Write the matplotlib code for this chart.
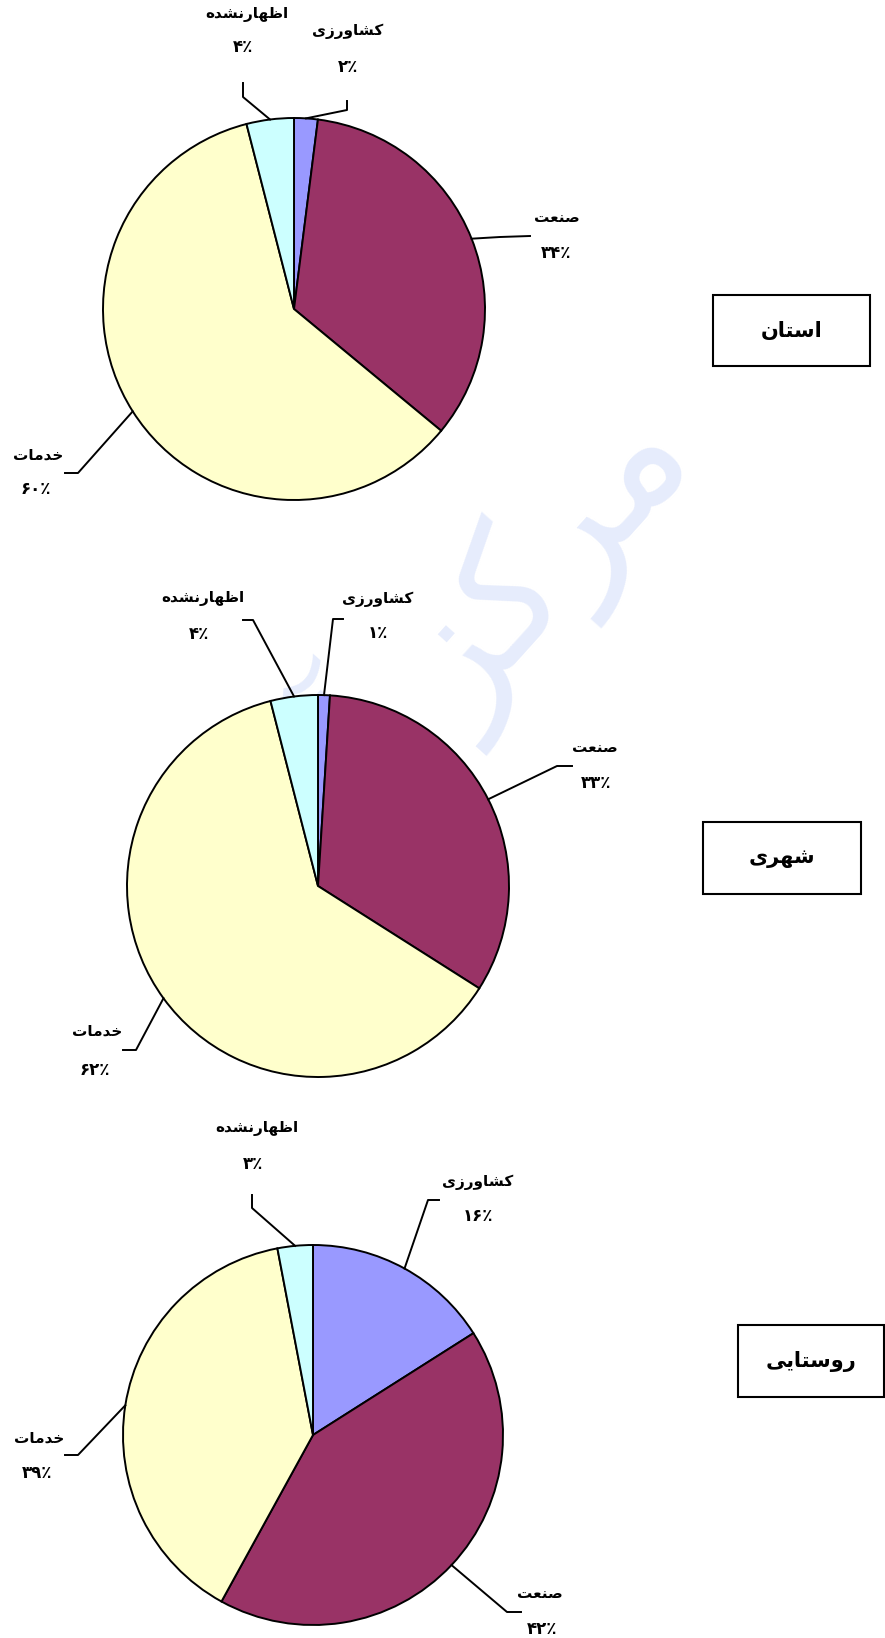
import numpy as np
import matplotlib
matplotlib.use("Agg")
import matplotlib.pyplot as plt
from matplotlib.patches import Rectangle

plt.rcParams['font.family'] = ['DejaVu Sans']

# data
sectors = ['کشاورزی', 'صنعت', 'خدمات', 'اظهارنشده']
colors = ['#9999FF', '#993366', '#FFFFCC', '#CCFFFF']
titles = ['استان', 'شهری', 'روستایی']
ostan = [2, 34, 60, 4]
shahri = [1, 33, 62, 4]
roustaei = [16, 42, 39, 3]
pct_labels = [['۲٪', '۳۴٪', '۶۰٪', '۴٪'],
              ['۱٪', '۳۳٪', '۶۲٪', '۴٪'],
              ['۱۶٪', '۴۲٪', '۳۹٪', '۳٪']]

W, H = 885, 1638

# arabic presentation forms: isolated, final, initial, medial
FORMS = {
    'ا': ('\uFE8D', '\uFE8E'),
    'آ': ('\uFE81', '\uFE82'),
    'ت': ('\uFE95', '\uFE96', '\uFE97', '\uFE98'),
    'خ': ('\uFEA5', '\uFEA6', '\uFEA7', '\uFEA8'),
    'د': ('\uFEA9', '\uFEAA'),
    'ر': ('\uFEAD', '\uFEAE'),
    'ز': ('\uFEAF', '\uFEB0'),
    'س': ('\uFEB1', '\uFEB2', '\uFEB3', '\uFEB4'),
    'ش': ('\uFEB5', '\uFEB6', '\uFEB7', '\uFEB8'),
    'ص': ('\uFEB9', '\uFEBA', '\uFEBB', '\uFEBC'),
    'ظ': ('\uFEC5', '\uFEC6', '\uFEC7', '\uFEC8'),
    'ع': ('\uFEC9', '\uFECA', '\uFECB', '\uFECC'),
    'ک': ('\uFB8E', '\uFB8F', '\uFB90', '\uFB91'),
    'م': ('\uFEE1', '\uFEE2', '\uFEE3', '\uFEE4'),
    'ن': ('\uFEE5', '\uFEE6', '\uFEE7', '\uFEE8'),
    'و': ('\uFEED', '\uFEEE'),
    'ه': ('\uFEE9', '\uFEEA', '\uFEEB', '\uFEEC'),
    'ی': ('\uFBFC', '\uFBFD', '\uFBFE', '\uFBFF'),
}


def shape(word):
    out = []
    n = len(word)
    for i, ch in enumerate(word):
        f = FORMS.get(ch)
        if f is None:
            out.append(ch)
            continue
        prev = word[i-1] if i > 0 else None
        nxt = word[i+1] if i < n-1 else None
        pj = prev in FORMS and len(FORMS[prev]) == 4
        nj = len(f) == 4 and nxt in FORMS
        if pj and nj:
            out.append(f[3])
        elif pj:
            out.append(f[1])
        elif nj:
            out.append(f[2])
        else:
            out.append(f[0])
    return ''.join(reversed(out))


def Y(y):
    return H - y


# layout in pixel coords (y from top)
pies = [
    dict(vals=ostan, c=(294, 309), r=191, box=(713, 295, 870, 366),
         labels=[((348, 31), (348, 67), (347, 110), (347, 101)),
                 ((557, 218), (556, 253), (500, 237), (530, 236)),
                 ((38, 455), (36, 489), (78, 473), (65, 473)),
                 ((247, 15), (243, 47), (243, 97), (243, 83))]),
    dict(vals=shahri, c=(318, 886), r=191, box=(703, 822, 861, 894),
         labels=[((378, 599), (378, 633), (333, 619), (343, 619)),
                 ((595, 747), (596, 783), (557, 766), (572, 766)),
                 ((97, 1031), (95, 1070), (136, 1050), (123, 1050)),
                 ((203, 599), (199, 634), (253, 620), (243, 620))]),
    dict(vals=roustaei, c=(313, 1435), r=190, box=(738, 1325, 884, 1397),
         labels=[((478, 1182), (478, 1216), (428, 1200), (439, 1200)),
                 ((540, 1594), (542, 1629), (507, 1612), (521, 1612)),
                 ((39, 1438), (37, 1473), (78, 1455), (65, 1455)),
                 ((257, 1128), (253, 1164), (252, 1208), (252, 1195))]),
]

fig = plt.figure(figsize=(W/100, H/100), dpi=100)
ax = fig.add_axes([0, 0, 1, 1])

# faint watermark
ax.text(432, Y(677), shape('مرکز آمار'), rotation=48, fontsize=120,
        color='#e6ecfc', ha='center', va='center', zorder=0)

for k, p in enumerate(pies):
    cx, cy = p['c']
    ax.pie(p['vals'], colors=colors, startangle=90, counterclock=False,
           center=(cx, Y(cy)), radius=p['r'],
           wedgeprops=dict(edgecolor='black', linewidth=1.4))
    cum = np.cumsum(p['vals'])
    tot = cum[-1]
    for i, (name_xy, pct_xy, elbow, end) in enumerate(p['labels']):
        mid = (cum[i] - p['vals'][i] / 2) / tot * 360
        a = np.deg2rad(mid)
        sx = cx + p['r'] * np.sin(a)
        sy = cy - p['r'] * np.cos(a)
        ax.plot([sx, elbow[0], end[0]], [Y(sy), Y(elbow[1]), Y(end[1])],
                color='black', lw=1.4, zorder=3)
        ax.text(name_xy[0], Y(name_xy[1]), shape(sectors[i]), ha='center',
                va='center', fontsize=11, fontweight='bold')
        ax.text(pct_xy[0], Y(pct_xy[1]), pct_labels[k][i], ha='center',
                va='center', fontsize=12, fontweight='bold')
    x0, y0, x1, y1 = p['box']
    ax.add_patch(Rectangle((x0, Y(y1)), x1 - x0, y1 - y0, fill=False,
                           edgecolor='black', lw=1.5))
    ax.text((x0 + x1) / 2, Y((y0 + y1) / 2), shape(titles[k]), ha='center',
            va='center', fontsize=15, fontweight='bold')

ax.set_xlim(0, W)
ax.set_ylim(0, H)
ax.set_aspect('auto')
ax.axis('off')

fig.savefig('out.png', dpi=100, facecolor='white')
